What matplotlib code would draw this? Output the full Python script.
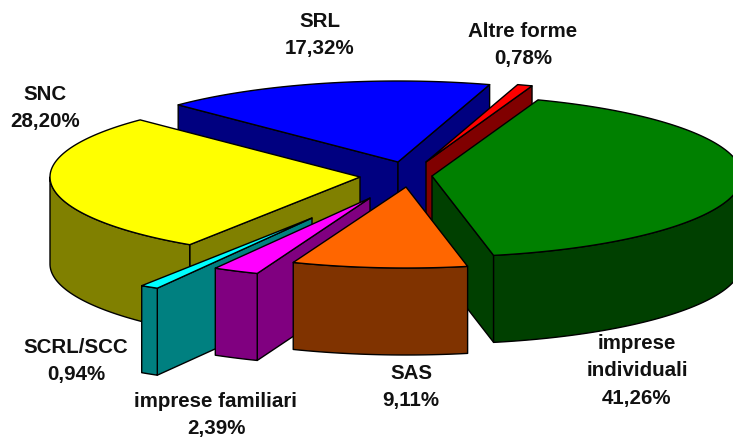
"""
3D exploded pie: forme giuridiche delle imprese (Excel style).
Matplotlib pie has no depth, so the slices are built as polygons from the shares.
"""
import numpy as np
import matplotlib
matplotlib.use("Agg")
import matplotlib.pyplot as plt
from matplotlib.patches import Polygon

# ── Data ─────────────────────────────────────────────────────────────────────

labels = ["imprese\nindividuali", "SAS", "imprese familiari", "SCRL/SCC",
          "SNC", "SRL", "Altre forme"]
shares = [41.26, 9.11, 2.39, 0.94, 28.20, 17.32, 0.78]

# ── Layout (pixels) ──────────────────────────────────────────────────────────

W, H = 733, 439
CX, CY = 400, 178
RX, RY = 310, 81
DEPTH = 87
START = 20  # degrees clockwise from the back of the pie

top_colors = ["#008000", "#FF6600", "#FF00FF", "#00FFFF", "#FFFF00", "#0000FF", "#FF0000"]
side_colors = ["#004000", "#803300", "#800080", "#008080", "#808000", "#000080", "#800000"]
explode = [(32, -1), (6, 10), (-30, 21), (-88, 41), (-40, 0), (-2, -15), (26, -15)]
label_pos = [(637, 371), (411, 387), (216, 415), (76, 361), (45, 108), (320, 35), (523, 45)]
draw_order = [5, 6, 4, 0, 3, 2, 1]

plt.rcParams["font.family"] = ["Liberation Sans", "DejaVu Sans"]

fig = plt.figure(figsize=(W / 100, H / 100), dpi=100)
ax = fig.add_axes([0, 0, 1, 1])
ax.set_xlim(0, W)
ax.set_ylim(H, 0)
ax.axis("off")


def rim(x0, y0, t):
    t = np.radians(t)
    return np.column_stack([x0 + RX * np.sin(t), y0 - RY * np.cos(t)])


def face(pts, color, z):
    ax.add_patch(Polygon(pts, closed=True, facecolor=color, edgecolor="black",
                         linewidth=1.0, joinstyle="round", zorder=z))


# ── Slices ───────────────────────────────────────────────────────────────────

edges = START + np.concatenate([[0], np.cumsum(shares)]) * 3.6

for z, i in enumerate(draw_order):
    t0, t1 = edges[i], edges[i + 1]
    x0, y0 = CX + explode[i][0], CY + explode[i][1]
    apex = np.array([[x0, y0]])
    down = np.array([0, DEPTH])
    base = z * 10

    # cut faces, only those turned towards the viewer
    for t, visible in [(t0, np.sin(np.radians(t0)) < 0), (t1, np.sin(np.radians(t1)) > 0)]:
        if visible:
            p = rim(x0, y0, np.array([t]))
            face(np.vstack([apex, p, p + down, apex + down]), side_colors[i], base + 1)

    # outer wall, front half of the rim only
    lo, hi = max(t0, 90), min(t1, 270)
    if lo < hi:
        arc = rim(x0, y0, np.linspace(lo, hi, 80))
        face(np.vstack([arc, (arc + down)[::-1]]), side_colors[i], base + 2)

    # top
    arc = rim(x0, y0, np.linspace(t0, t1, 120))
    face(np.vstack([apex, arc]), top_colors[i], base + 3)

# ── Labels ───────────────────────────────────────────────────────────────────

for name, val, (lx, ly) in zip(labels, shares, label_pos):
    txt = f"{name}\n{val:.2f}%".replace(".", ",")
    ax.text(lx, ly, txt, ha="center", va="center", fontsize=14.8, fontweight="bold",
            color="#111111", linespacing=1.58, zorder=500)

fig.savefig("out.png", dpi=100)
